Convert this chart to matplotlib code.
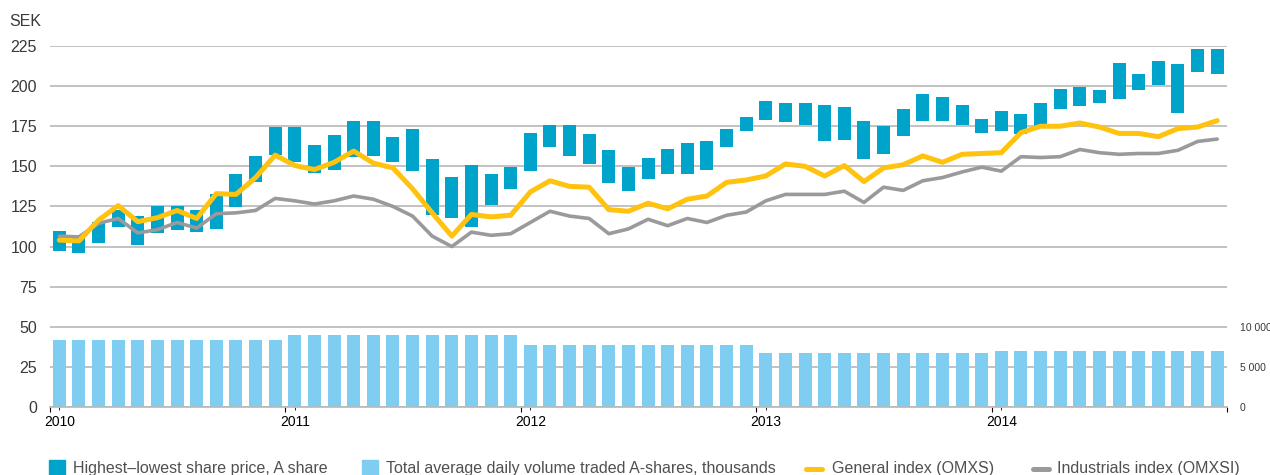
import matplotlib
matplotlib.use("Agg")
import matplotlib.pyplot as plt
from matplotlib.patches import Rectangle
from matplotlib.lines import Line2D
from matplotlib.ticker import FixedLocator, FuncFormatter

plt.rcParams['font.family'] = ['Liberation Sans', 'DejaVu Sans']

# Monthly data, Jan 2010 - Dec 2014
years = ["2010", "2011", "2012", "2013", "2014"]

price_high = [110, 106, 115, 123, 119, 125.5, 125, 122.5, 132.5, 145, 156.5, 174.5,
              174.5, 163, 169.5, 178, 178.5, 168, 173.5, 154.5, 143.5, 151, 145.5, 149.5,
              170.5, 175.5, 176, 170, 160, 149.5, 155.5, 160.5, 164.5, 165.5, 173.5, 181,
              190.5, 189.5, 189.5, 188, 187, 178.5, 175, 185.5, 195, 193.5, 188, 179.5,
              184.5, 182.5, 189.5, 198, 199.5, 197.5, 214.5, 207.5, 215.5, 213.5, 223, 223]
price_low = [97, 96, 102, 112.5, 101, 108.5, 110.5, 109, 111, 124.5, 140, 157,
             152.5, 146, 148, 156, 156.5, 152.5, 147, 119.5, 118, 112.5, 126, 136,
             147, 162, 156.5, 151.5, 139.5, 134.5, 142, 145, 145, 147.5, 162, 172,
             179, 177.5, 176, 166, 166.5, 154.5, 157.5, 169, 178.5, 178.5, 176, 171,
             172, 170, 174, 186, 187.5, 189.5, 192, 197.5, 200.5, 183, 209, 207.5]

general_index = [104, 103.5, 116.5, 125.5, 115.5, 118, 122.5, 117.5, 133, 132.5, 143, 157,
                 150.5, 148, 152.5, 159.5, 152, 149, 136, 121, 106.5, 120, 118.5, 119.5,
                 134, 141, 137.5, 137, 123, 122, 127, 123.5, 129.5, 131.5, 140, 141.5,
                 144, 151.5, 150, 144, 150.5, 140.5, 149, 151, 156.5, 152.5, 157.5, 158,
                 158.5, 171, 175, 175, 177, 174.5, 170.5, 170.5, 168.5, 173.5, 174.5, 178.5]

industrials_index = [106.5, 106, 114.5, 117.5, 108.5, 110.5, 115, 111.5, 120.5, 121, 122.5, 130,
                     128.5, 126.5, 128.5, 131.5, 129.5, 125, 119, 106.5, 100, 109, 107, 108,
                     115, 122, 119, 117.5, 108, 111, 117, 113, 117.5, 115, 119.5, 121.5,
                     128.5, 132.5, 132.5, 132.5, 134.5, 127.5, 137, 135, 141, 143, 146.5, 149.5,
                     147, 156, 155.5, 156, 160.5, 158.5, 157.5, 158, 158, 160, 165.5, 167]

# Total average daily volume traded, thousands (per month, constant within a year)
volume = [8375] * 12 + [9000] * 12 + [7750] * 12 + [6750] * 12 + [7000] * 12

price_ticks = [0, 25, 50, 75, 100, 125, 150, 175, 200, 225]
volume_ticks = [0, 5000, 10000]

legend_labels = ["Highest\u2013lowest share price, A share",
                 "Total average daily volume traded A-shares, thousands",
                 "General index (OMXS)",
                 "Industrials index (OMXSI)"]

TEAL = "#00a3c9"
LIGHT_BLUE = "#7fcdf1"
YELLOW = "#ffc20e"
GREY_LINE = "#9a9a9d"
GRID = "#b8b8b8"
TEXT = "#3a3a3a"

W, H = 1270, 475
fig = plt.figure(figsize=(W / 100, H / 100), dpi=100)

left, right = 49.5 / W, 1227 / W
bottom = (H - 407) / H
top = (H - 46) / H
rect = [left, bottom, right - left, top - bottom]

n = len(price_high)
x = [i + 0.5 for i in range(n)]
bar_w = 0.66

# Volume axis underneath (right-hand scale)
axv = fig.add_axes(rect)
vol_max = price_ticks[-1] * 200
axv.set_ylim(0, vol_max)
axv.set_xlim(0, n)
axv.grid(axis='y', color=GRID, linewidth=1.2, zorder=0)
axv.set_axisbelow(True)
axv.bar(x, volume, width=bar_w, color=LIGHT_BLUE, zorder=2)
for s in axv.spines.values():
    s.set_visible(False)
axv.spines['bottom'].set_visible(True)
axv.spines['bottom'].set_color(GRID)
axv.spines['bottom'].set_linewidth(1.2)
axv.set_xticks([])

# Price axis on top
ax = axv.twinx()
ax.set_ylim(0, price_ticks[-1])
ax.set_xlim(0, n)
ax.yaxis.tick_left()
ax.yaxis.set_label_position('left')
ax.set_yticks(price_ticks)
ax.tick_params(axis='y', length=0, pad=9, labelsize=11.5, labelcolor=TEXT)
for s in ax.spines.values():
    s.set_visible(False)

# Right-hand volume scale (set after twinx, which moves ticks to the left)
axv.yaxis.tick_right()
axv.yaxis.set_label_position('right')
axv.yaxis.set_major_locator(FixedLocator(list(range(0, vol_max + 1, 5000))))
axv.yaxis.set_major_formatter(FuncFormatter(
    lambda v, p: ("{:,}".format(int(v)).replace(",", " ") if v in volume_ticks else "")))
axv.tick_params(axis='y', length=0, pad=9, labelsize=7.5, labelcolor=TEXT,
                left=False, labelleft=False, right=True, labelright=True)

heights = [h - l for h, l in zip(price_high, price_low)]
ax.bar(x, heights, bottom=price_low, width=bar_w, color=TEAL, zorder=3)
ax.plot(x, industrials_index, color=GREY_LINE, lw=2.6, zorder=4,
        solid_capstyle='round', solid_joinstyle='round', clip_on=False)
ax.plot(x, general_index, color=YELLOW, lw=3.6, zorder=5,
        solid_capstyle='round', solid_joinstyle='round', clip_on=False)

# Year boundary ticks and year labels
ax.set_xticks([12 * k for k in range(len(years) + 1)])
ax.set_xticklabels([])
ax.tick_params(axis='x', direction='in', length=6.5, width=1, color=GRID)
ax.set_xticks([12 * k + 0.5 for k in range(len(years))], minor=True)
ax.set_xticklabels(years, minor=True)
ax.tick_params(axis='x', which='minor', length=0, pad=9, labelsize=8.5, labelcolor=TEXT)

fig.text(41 / W, 1 - 22 / H, "SEK", ha='right', va='center', fontsize=11.5, color=TEXT)

# Legend row
leg_y = 1 - 469 / H
sq = 16
fig.patches.append(Rectangle((49 / W, 1 - 476 / H), sq / W, sq / H, transform=fig.transFigure,
                             color=TEAL, figure=fig))
fig.patches.append(Rectangle((362 / W, 1 - 476 / H), sq / W, sq / H, transform=fig.transFigure,
                             color=LIGHT_BLUE, figure=fig))
fig.lines.append(Line2D([806 / W, 822 / W], [leg_y, leg_y], transform=fig.transFigure,
                        color=YELLOW, lw=3.6, solid_capstyle='round', figure=fig))
fig.lines.append(Line2D([1033 / W, 1049 / W], [leg_y, leg_y], transform=fig.transFigure,
                        color=GREY_LINE, lw=3.6, solid_capstyle='round', figure=fig))
for xt, lab in zip([73, 386, 832, 1057], legend_labels):
    fig.text(xt / W, leg_y, lab, ha='left', va='center', fontsize=11.5, color="#505050")

fig.savefig("out.png", dpi=100)
